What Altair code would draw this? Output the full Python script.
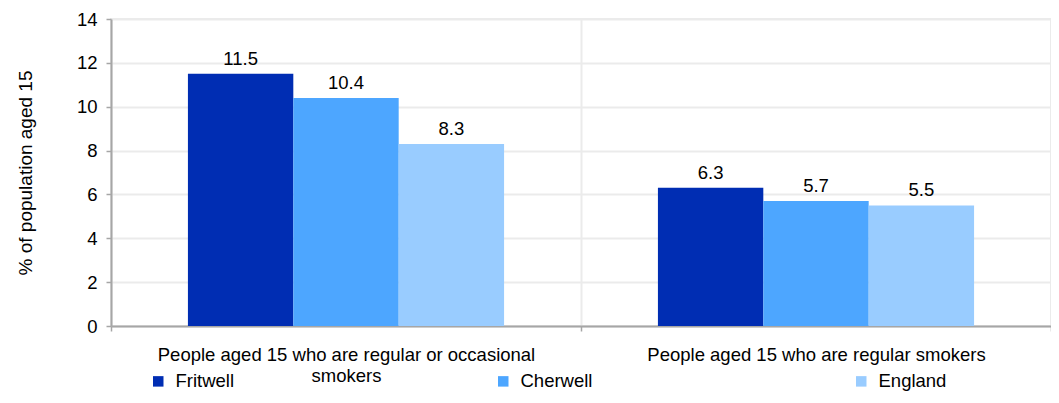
import altair as alt
import pandas as pd

categories = ["People aged 15 who are regular or occasional smokers",
              "People aged 15 who are regular smokers"]
category_lines = [["People aged 15 who are regular or occasional", "smokers"],
                  ["People aged 15 who are regular smokers"]]
areas = ["Fritwell", "Cherwell", "England"]
fritwell = [11.5, 6.3]
cherwell = [10.4, 5.7]
england = [8.3, 5.5]
colors = ["#002db3", "#4da6ff", "#99ccff"]
y_ticks = [0, 2, 4, 6, 8, 10, 12, 14]

rows = []
for i, c in enumerate(categories):
    for a, vals in zip(areas, [fritwell, cherwell, england]):
        rows.append({"category": c, "area": a, "value": vals[i]})
df = pd.DataFrame(rows)

label_expr = ""
for c, lines in zip(categories, category_lines):
    arr = "[" + ",".join("'" + l + "'" for l in lines) + "]"
    label_expr += f"datum.label == '{c}' ? {arr} : "
label_expr += "datum.label"

FONT = "Liberation Sans"
FS = 18.5
AXC = "#a6a6a6"
GRID = "#ebebeb"

x = alt.X("category:N", sort=categories, title=None,
          scale=alt.Scale(paddingInner=0, paddingOuter=0),
          axis=alt.Axis(labelAngle=0, labelExpr=label_expr, labelFontSize=FS,
                        labelColor="#000", labelFont=FONT, labelLineHeight=21,
                        labelPadding=14, tickSize=5, tickColor=AXC, tickWidth=1.5,
                        domainColor=AXC, domainWidth=2,
                        grid=True, gridColor=GRID, gridWidth=2,
                        tickBand="extent", labelLimit=600))
xo = alt.XOffset("area:N", sort=areas,
                 scale=alt.Scale(paddingInner=0, paddingOuter=0.73))
y = alt.Y("value:Q", title="% of population aged 15",
          scale=alt.Scale(domain=[0, 14]),
          axis=alt.Axis(values=y_ticks, labelFontSize=FS, labelColor="#000",
                        labelFont=FONT, titleFont=FONT, titleFontSize=19,
                        titleFontWeight="normal", titleColor="#000",
                        titlePadding=41, labelPadding=9, tickSize=5,
                        tickColor=AXC, tickWidth=1.5, domainColor=AXC, domainWidth=2,
                        gridColor=GRID, gridWidth=2))
color = alt.Color("area:N", sort=areas,
                  scale=alt.Scale(domain=areas, range=colors),
                  legend=alt.Legend(title=None, orient="none", direction="horizontal",
                                    legendX=38, legendY=353, columnPadding=259,
                                    symbolType="square", symbolSize=110,
                                    symbolStrokeWidth=0, labelFontSize=FS,
                                    labelFont=FONT, labelColor="#000",
                                    labelOffset=8, padding=0))

base = alt.Chart(df).encode(x=x, xOffset=xo, y=y)
bars = base.mark_bar().encode(color=color)
text = base.mark_text(baseline="bottom", dy=-5, fontSize=FS, font=FONT,
                      color="#000").encode(text=alt.Text("value:Q", format=".1f"))

chart = (bars + text).properties(
    width=940, height=307,
    autosize=alt.AutoSizeParams(type="none"),
    padding={"left": 103, "top": 11, "right": 0, "bottom": 65},
).configure_view(stroke=GRID, strokeWidth=2)

chart.save("out.html", embed_options={"renderer": "svg", "actions": False})
